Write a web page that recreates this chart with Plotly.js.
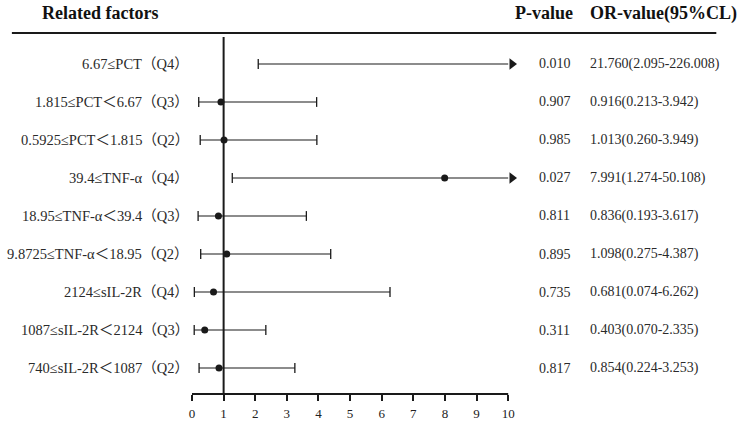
<!DOCTYPE html>
<html>
<head>
<meta charset="utf-8">
<script src="https://cdn.plot.ly/plotly-3.0.1.min.js"></script>
<style>html,body{margin:0;padding:0;background:#fff;}#chart{width:742px;height:422px;}</style>
</head>
<body>
<div id="chart"></div>
<script>
// ---- data ----
var factors = [
  "6.67≤PCT（Q4）",
  "1.815≤PCT＜6.67（Q3）",
  "0.5925≤PCT＜1.815（Q2）",
  "39.4≤TNF-α（Q4）",
  "18.95≤TNF-α＜39.4（Q3）",
  "9.8725≤TNF-α＜18.95（Q2）",
  "2124≤sIL-2R（Q4）",
  "1087≤sIL-2R＜2124（Q3）",
  "740≤sIL-2R＜1087（Q2）"
];
var orValue = [21.760, 0.916, 1.013, 7.991, 0.836, 1.098, 0.681, 0.403, 0.854];
var ciLow   = [2.095, 0.213, 0.260, 1.274, 0.193, 0.275, 0.074, 0.070, 0.224];
var ciHigh  = [226.008, 3.942, 3.949, 50.108, 3.617, 4.387, 6.262, 2.335, 3.253];
var pValue  = ["0.010", "0.907", "0.985", "0.027", "0.811", "0.895", "0.735", "0.311", "0.817"];
var orText  = ["21.760(2.095-226.008)", "0.916(0.213-3.942)", "1.013(0.260-3.949)",
               "7.991(1.274-50.108)", "0.836(0.193-3.617)", "1.098(0.275-4.387)",
               "0.681(0.074-6.262)", "0.403(0.070-2.335)", "0.854(0.224-3.253)"];
var xTicks = [0, 1, 2, 3, 4, 5, 6, 7, 8, 9, 10];

// ---- build ----
var XMAX = 10, XEXT = 10.5, ARROW = 10.12;
var n = factors.length;
var yPos = factors.map(function(_, i){ return n - i; });
var serif = "'Liberation Serif', 'Times New Roman', 'Noto Sans CJK SC', serif";
var ink = "#1a1a1a";

var lx = [], ly = [], capX = [], capY = [], dotX = [], dotY = [], arX = [], arY = [];
for (var i = 0; i < n; i++) {
  var hi = ciHigh[i] > XMAX ? ARROW - 0.12 : ciHigh[i];
  lx.push(ciLow[i], hi, null); ly.push(yPos[i], yPos[i], null);
  capX.push(ciLow[i]); capY.push(yPos[i]);
  if (ciHigh[i] <= XMAX) { capX.push(ciHigh[i]); capY.push(yPos[i]); }
  else { arX.push(ARROW); arY.push(yPos[i]); }
  if (orValue[i] <= XMAX) { dotX.push(orValue[i]); dotY.push(yPos[i]); }
}

var traces = [
  {x: lx, y: ly, mode: "lines", line: {color: ink, width: 1.2}, hoverinfo: "skip"},
  {x: capX, y: capY, mode: "markers", cliponaxis: false, hoverinfo: "skip",
   marker: {symbol: "line-ns", size: 7, line: {color: ink, width: 1.3}}},
  {x: arX, y: arY, mode: "markers", cliponaxis: false, hoverinfo: "skip",
   marker: {symbol: "triangle-right", size: 10, color: ink}},
  {x: dotX, y: dotY, mode: "markers", cliponaxis: false, hoverinfo: "skip",
   marker: {symbol: "circle", size: 7, color: ink}}
];

var L = 192, UNIT = 31.6, W = 742;
var R = L + XEXT * UNIT;
function px(p){ return (p - L) / (R - L); }

var annotations = [];
var cellFont = {family: serif, size: 14, color: "#2a2a2a"};
for (var j = 0; j < n; j++) {
  annotations.push({x: 0, xref: "paper", y: yPos[j], yref: "y", text: factors[j], showarrow: false,
    xanchor: "right", xshift: -1, font: {family: serif, size: 14.5, color: "#2a2a2a"}});
  annotations.push({x: px(537), xref: "paper", y: yPos[j], yref: "y", text: pValue[j], showarrow: false,
    xanchor: "left", font: cellFont});
  annotations.push({x: px(588), xref: "paper", y: yPos[j], yref: "y", text: orText[j], showarrow: false,
    xanchor: "left", font: cellFont});
}
var hFont = {family: serif, size: 18, color: "#111"};
annotations.push({x: px(100), xref: "paper", y: 1, yref: "paper", yshift: 24, yanchor: "middle", text: "<b>Related factors</b>", showarrow: false, xanchor: "center", font: hFont});
annotations.push({x: px(513), xref: "paper", y: 1, yref: "paper", yshift: 24, yanchor: "middle", text: "<b>P-value</b>", showarrow: false, xanchor: "left", font: hFont});
annotations.push({x: px(588), xref: "paper", y: 1, yref: "paper", yshift: 24, yanchor: "middle", text: "<b>OR-value(95%CL)</b>", showarrow: false, xanchor: "left", font: hFont});

var layout = {
  width: W, height: 422, autosize: false,
  margin: {l: L, r: W - R, t: 37, b: 28, pad: 0},
  paper_bgcolor: "#fff", plot_bgcolor: "#fff",
  showlegend: false,
  xaxis: {range: [0, XEXT], tickvals: xTicks, ticktext: xTicks.map(String),
    showgrid: false, zeroline: false, showline: false,
    ticks: "outside", ticklen: 6, tickwidth: 2, tickcolor: ink, ticklabelstandoff: 1,
    tickfont: {family: serif, size: 13, color: "#222"}, fixedrange: true},
  yaxis: {range: [0.316, 9.71], showgrid: false, zeroline: false, showline: false,
    showticklabels: false, ticks: "", fixedrange: true},
  shapes: [
    {type: "line", xref: "x", yref: "paper", x0: 0, x1: XMAX, y0: 0, y1: 0, line: {color: ink, width: 2}},
    {type: "line", xref: "x", yref: "paper", x0: 1, x1: 1, y0: 0, y1: 1, line: {color: ink, width: 2}},
    {type: "line", xref: "paper", yref: "paper", x0: px(12), x1: px(716), y0: 1 + 4 / 357, y1: 1 + 4 / 357,
     line: {color: ink, width: 2}}
  ],
  annotations: annotations
};

Plotly.newPlot("chart", traces, layout, {staticPlot: true, displayModeBar: false});
</script>
</body>
</html>
